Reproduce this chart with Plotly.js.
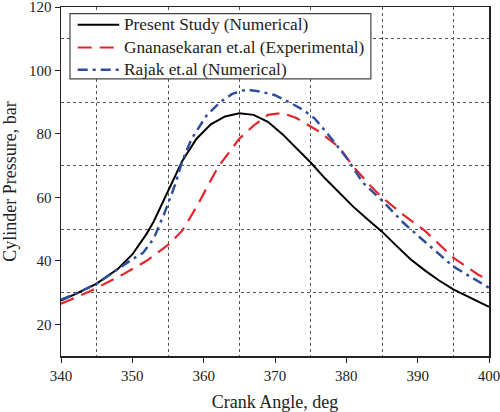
<!DOCTYPE html>
<html><head><meta charset="utf-8">
<script src="https://cdn.plot.ly/plotly-3.0.1.min.js"></script>
<style>html,body{margin:0;padding:0;background:#fff}#chart{width:500px;height:412px}</style>
</head><body><div id="chart"></div>
<script>
const presentX = [340,342,345,348,350,352,353,355,357,359,361,363,365,367,369,371,373,375,377,379,381,383,385,387,389,391,393,395,397,400];
const presentY = [27.5,29.5,32.8,37.5,42,48.5,52.4,62,71.5,78.5,83,85.5,86.5,86,83.8,80,75.5,71,66,61.5,57,53,49.2,44.8,40.5,37,33.8,31,28.8,25.5];
const gnanaX = [340,344,348.5,352,355,357,359,362,365,367,369,371,373,376,379,381,383.4,385,388,391,395,398.5,400];
const gnanaY = [26.5,30.3,35.5,40,45,49.5,57,69.5,78.5,82.6,86,86.6,85,81,75.8,69.6,63.6,60,54.5,49.5,41,35.6,34];
const rajakX = [340,342,345,348,350,351.5,353,354.5,356,357,358.3,360.4,362.3,364,366,368,370,372,374,375.5,377.2,380,382.3,385,388,390,395,400];
const rajakY = [27.8,29.5,32.8,37.5,40.5,42.5,47,55,64,71.5,78.4,85.8,90,92.6,94,93.3,92.2,90,87.5,85,80.5,72.6,64.7,59,52,48,38.2,31.5];
const names = ['Present Study (Numerical)','Gnanasekaran et.al (Experimental)','Rajak et.al (Numerical)'];

const font = '"Liberation Serif", "Times New Roman", serif';
const lineStyles = [
  {color: '#000000', width: 2},
  {color: '#e3262e', width: 2.2, dash: '14px,8px'},
  {color: '#2f4f9c', width: 2.5, dash: '10px,5px,3px,5px'}
];
const xs = [presentX, gnanaX, rajakX];
const ys = [presentY, gnanaY, rajakY];
const traces = names.map((n, i) => ({x: xs[i], y: ys[i], name: n, mode: 'lines', line: lineStyles[i], showlegend: false}));

// Legend box drawn in paper coordinates (styling only)
const legBox = {x0: 0.021, x1: 0.724, y0: 0.794, y1: 0.981};
const rowY = [0.949, 0.884, 0.820];
const shapes = [{type: 'rect', xref: 'paper', yref: 'paper', x0: legBox.x0, x1: legBox.x1, y0: legBox.y0, y1: legBox.y1,
                 fillcolor: '#ffffff', line: {color: '#444444', width: 1.2}, layer: 'above'}];
const annotations = [];
names.forEach((n, i) => {
  shapes.push({type: 'line', xref: 'paper', yref: 'paper', x0: 0.039, x1: 0.136, y0: rowY[i], y1: rowY[i],
               line: lineStyles[i], layer: 'above'});
  annotations.push({xref: 'paper', yref: 'paper', x: 0.143, y: rowY[i], xanchor: 'left', yanchor: 'middle',
                    text: n, showarrow: false, font: {family: font, size: 17.3, color: '#222'}});
});

const gridStyle = {showgrid: true, gridcolor: '#555555', gridwidth: 1, griddash: 'dot', ticks: ''};
const layout = {
  width: 500, height: 412,
  margin: {l: 61, r: 11, t: 7, b: 56},
  paper_bgcolor: '#ffffff', plot_bgcolor: '#ffffff',
  font: {family: font, color: '#222222', size: 15},
  showlegend: false,
  shapes: shapes, annotations: annotations,
  xaxis: {range: [340, 400], tick0: 340, dtick: 10, ticks: 'outside', ticklen: 5, tickcolor: '#222',
          showline: true, linecolor: '#222', linewidth: 1.5, mirror: true, showgrid: false, zeroline: false,
          tickfont: {family: font, size: 15}, ticklabeloverflow: 'allow',
          minor: Object.assign({tick0: 345, dtick: 10}, gridStyle),
          title: {text: 'Crank Angle, deg', font: {family: font, size: 18}, standoff: 13}},
  yaxis: {range: [10, 120], tick0: 20, dtick: 20, ticks: 'outside', ticklen: 5, tickcolor: '#222',
          showline: true, linecolor: '#222', linewidth: 1.5, mirror: true, showgrid: false, zeroline: false,
          tickfont: {family: font, size: 15}, ticklabeloverflow: 'allow',
          minor: Object.assign({tick0: 30, dtick: 20}, gridStyle),
          title: {text: 'Cylinder Pressure, bar', font: {family: font, size: 18}, standoff: 14}}
};
Plotly.newPlot('chart', traces, layout, {displayModeBar: false, staticPlot: true});
</script>
</body></html>
